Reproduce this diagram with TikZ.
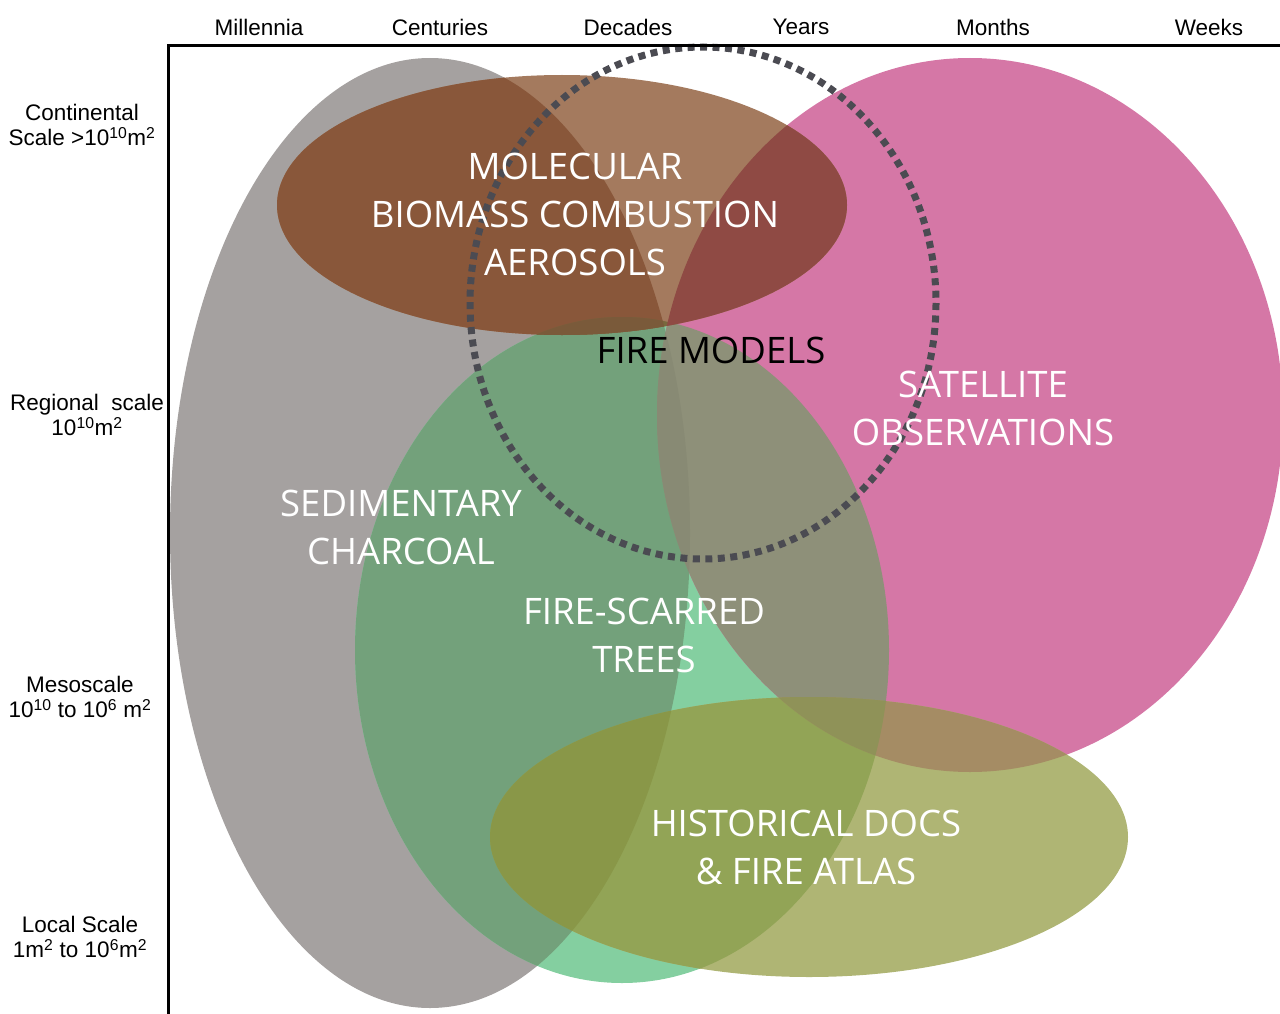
\documentclass[tikz,border=0pt]{standalone}
\usepackage{fontspec}
\setmainfont{Liberation Sans}
\newfontfamily\labelfont{Open Sans}

\definecolor{cgray}{RGB}{165,161,160}
\definecolor{cgreen}{RGB}{132,207,160}
\definecolor{cmagenta}{RGB}{213,119,166}
\definecolor{cbrown}{RGB}{164,122,94}
\definecolor{colive}{RGB}{175,181,116}
\definecolor{cgraygreen}{RGB}{115,161,123}
\definecolor{cgraybrown}{RGB}{137,87,58}
\definecolor{cgreenbrown}{RGB}{121,104,61}
\definecolor{cgraygreenbrown}{RGB}{122,90,58}
\definecolor{cbrownmagenta}{RGB}{143,74,68}
\definecolor{cgreenmagenta}{RGB}{142,144,121}
\definecolor{cgraygreenmagenta}{RGB}{136,138,116}
\definecolor{cgreenolive}{RGB}{146,164,86}
\definecolor{cmagentaolive}{RGB}{165,140,100}
\definecolor{cgraygreenolive}{RGB}{137,151,72}
\definecolor{cgreenmagentaolive}{RGB}{143,146,88}
\definecolor{cdots}{RGB}{75,75,82}

\tikzset{
  axislabel/.style={font=\fontsize{22.5}{25}\selectfont, align=center},
  biglabel/.style={font=\labelfont\fontsize{36.5}{48}\selectfont, text=white, align=center},
  firemodel/.style={cdots, line width=7, dash pattern=on 7 off 5.5},
}

\newcommand{\grayell}{(430,533) ellipse [x radius=260, y radius=475]}
\newcommand{\greenell}{(622,650) ellipse [x radius=267, y radius=333]}
\newcommand{\magentaell}{(970,415) ellipse [x radius=313, y radius=357]}
\newcommand{\brownell}{(562,205) ellipse [x radius=285, y radius=130]}
\newcommand{\oliveell}{(809,837) ellipse [x radius=319, y radius=140]}

\begin{document}
\begin{tikzpicture}[x=1pt, y=-1pt]
    \useasboundingbox (0,0) rectangle (1280,1014);

    % records, one ellipse each
    \fill[cgray] \grayell;
    \fill[cgreen] \greenell;
    \fill[cmagenta] \magentaell;
    \fill[cbrown] \brownell;
    \fill[colive] \oliveell;

    % overlaps of two
    \begin{scope} \clip \grayell; \fill[cgraygreen] \greenell; \end{scope}
    \begin{scope} \clip \greenell; \fill[cgreenmagenta] \magentaell; \end{scope}
    \begin{scope} \clip \grayell; \fill[cgraybrown] \brownell; \end{scope}
    \begin{scope} \clip \greenell; \fill[cgreenbrown] \brownell; \end{scope}
    \begin{scope} \clip \magentaell; \fill[cbrownmagenta] \brownell; \end{scope}
    \begin{scope} \clip \greenell; \fill[cgreenolive] \oliveell; \end{scope}
    \begin{scope} \clip \magentaell; \fill[cmagentaolive] \oliveell; \end{scope}

    % overlaps of three
    \begin{scope} \clip \grayell; \clip \greenell; \fill[cgraygreenmagenta] \magentaell; \end{scope}
    \begin{scope} \clip \grayell; \clip \greenell; \fill[cgraygreenbrown] \brownell; \end{scope}
    \begin{scope} \clip \grayell; \clip \greenell; \fill[cgraygreenolive] \oliveell; \end{scope}
    \begin{scope} \clip \magentaell; \clip \greenell; \fill[cgreenmagentaolive] \oliveell; \end{scope}

    % fire models
    \draw[firemodel] (703,303) ellipse [x radius=233, y radius=256];

    % axes
    \draw[line width=3] (1280,46) -- (168,46) -- (168,1014);

    \node[axislabel] (millennia) at (259,27) {Millennia};
    \node[axislabel] (centuries) at (440,27) {Centuries};
    \node[axislabel] (decades) at (628,27) {Decades};
    \node[axislabel] (years) at (801,27) {Years};
    \node[axislabel] (months) at (993,27) {Months};
    \node[axislabel] (weeks) at (1209,27) {Weeks};

    \node[axislabel] (continental) at (82,125) {Continental\\Scale >10\textsuperscript{10}m\textsuperscript{2}};
    \node[axislabel] (regional) at (87,415) {Regional\ \ scale\\10\textsuperscript{10}m\textsuperscript{2}};
    \node[axislabel] (meso) at (80,697) {Mesoscale\\10\textsuperscript{10} to 10\textsuperscript{6} m\textsuperscript{2}};
    \node[axislabel] (local) at (80,937) {Local Scale\\1m\textsuperscript{2} to 10\textsuperscript{6}m\textsuperscript{2}};

    % record labels
    \node[biglabel] (aerosols) at (575,214) {MOLECULAR\\BIOMASS COMBUSTION\\AEROSOLS};
    \node[biglabel, text=black] (models) at (711,350) {FIRE MODELS};
    \node[biglabel] (satellite) at (983,408) {SATELLITE\\OBSERVATIONS};
    \node[biglabel] (charcoal) at (401,527) {SEDIMENTARY\\CHARCOAL};
    \node[biglabel] (trees) at (644,635) {FIRE-SCARRED\\TREES};
    \node[biglabel] (docs) at (806,847) {HISTORICAL DOCS\\\& FIRE ATLAS};
\end{tikzpicture}
\end{document}
